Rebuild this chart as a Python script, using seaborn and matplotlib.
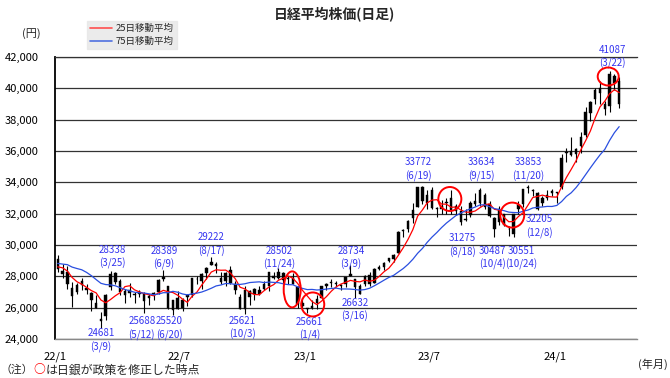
import numpy as np
import pandas as pd
import matplotlib
matplotlib.use("Agg")
import matplotlib.pyplot as plt
from matplotlib.patches import Ellipse
from matplotlib.lines import Line2D
import seaborn as sns

# -------------------------------
# Data (weekly candles, 2022/1 - 2024/4)
# -------------------------------
# closes of the last 15 weeks of 2021, only used to start the moving averages
warmup_close = [30249, 28771, 28049, 29069, 28805, 28893, 29612, 29610,
                29745, 28752, 28030, 28437, 28546, 28782, 28792]

first_week = "2022-01-07"   # week ending (Friday)

week_open = [
    # 2022
    29098, 28366, 28257, 27250, 27000, 27439, 27250, 26920, 26300, 25300,
    25480, 27300, 28200, 27700, 26800, 26950, 26800, 26850, 26900, 26630,
    26930, 27000, 27950, 27400, 25860, 26600, 26000, 26700, 26800, 27800,
    27700, 28200, 28700, 28800, 27900, 27700, 28400, 27500, 26700, 25900,
    26700, 27200, 26900, 27500, 27400, 28000, 27900, 28200, 27800, 27900,
    27300, 26300,
    # 2023
    25900, 26000, 26300, 26600, 27400, 27600, 27500, 27400, 27500, 28000,
    27800, 26900, 27500, 28100, 27600, 28500, 28600, 29000, 29100, 29500,
    30900, 31000, 31700, 32400, 33700, 32700, 33500, 32300, 32500, 32700,
    33000, 32200, 32200, 31600, 31900, 32800, 32700, 33200, 32600, 31700,
    31500, 32000, 31000, 30700, 32300, 32600, 33700, 33500, 33300, 32700,
    33000, 33300,
    # 2024
    33300, 33700, 35900, 36000, 35800, 36300, 37000, 38400, 39300, 40000,
    39000, 38900, 40800, 40500,
]
week_high = [
    29388, 28813, 28639, 27615, 27563, 27880, 27500, 27020, 26840, 25720,
    26900, 28338, 28252, 27850, 27180, 27580, 27000, 27100, 27000, 26900,
    27000, 27800, 28389, 27400, 26500, 27060, 26600, 26900, 27914, 28000,
    28200, 28600, 29222, 28900, 28250, 28250, 28660, 27700, 26900, 27400,
    27100, 27250, 27400, 27700, 28300, 28300, 28502, 28300, 28000, 28200,
    27400, 26600,
    26000, 26500, 26800, 27400, 27600, 27800, 27700, 27500, 27930, 28734,
    27800, 27500, 28100, 28300, 28500, 28700, 28900, 29200, 29400, 30900,
    31000, 31600, 32700, 33700, 33772, 33500, 33700, 32400, 32900, 33000,
    33500, 32600, 32500, 32300, 32800, 33300, 33634, 33300, 32800, 31800,
    32500, 32000, 31200, 32000, 32800, 33600, 33853, 33600, 33400, 33100,
    33500, 33600,
    33400, 35800, 36200, 36900, 36200, 37200, 38800, 39200, 40000, 40472,
    39200, 41087, 40900, 40700,
]
week_low = [
    28293, 27889, 27217, 26044, 26899, 27140, 26871, 25775, 25950, 24681,
    25207, 27120, 27500, 26800, 26300, 26700, 26290, 26650, 25688, 26200,
    26500, 26900, 27700, 25900, 25520, 25900, 25800, 26100, 26700, 27500,
    27200, 27800, 28700, 28200, 27500, 27400, 27500, 26900, 25937, 25621,
    26200, 26500, 26800, 27100, 27050, 27800, 27800, 27600, 27500, 27500,
    26000, 26000,
    25661, 25900, 25900, 26600, 27100, 27300, 27300, 27100, 27300, 28000,
    26632, 26900, 27400, 27400, 27600, 28400, 28400, 28900, 28900, 29500,
    30500, 30800, 31400, 32400, 32600, 32300, 32300, 31800, 32000, 32000,
    32000, 31900, 31275, 31500, 31800, 32500, 32500, 32300, 31800, 30487,
    31300, 31200, 30551, 30500, 32000, 32400, 33300, 33100, 32205, 32500,
    32900, 33100,
    32693, 33600, 35300, 35700, 35300, 35900, 36900, 37900, 39000, 39000,
    38300, 38500, 39900, 38774,
]
week_close = [
    28479, 28124, 27522, 26717, 27440, 27696, 27122, 26476, 25985, 25162,
    26827, 28149, 27665, 26985, 27093, 27105, 26847, 27003, 26427, 26739,
    26781, 27761, 27824, 25963, 26491, 25935, 26517, 26788, 27914, 27801,
    28175, 28546, 28930, 28641, 27650, 28214, 27567, 27153, 25937, 27116,
    27090, 26890, 27105, 27199, 28263, 27899, 28283, 27777, 27901, 27527,
    26235, 26094,
    25973, 26119, 26553, 27382, 27509, 27670, 27513, 27453, 27927, 28143,
    27333, 27385, 28041, 27518, 28493, 28564, 28856, 29157, 29388, 30808,
    30916, 31524, 32265, 33706, 32781, 33189, 32388, 32391, 32304, 32759,
    32193, 32473, 31450, 31624, 32710, 32606, 33533, 32402, 31857, 30994,
    32315, 31259, 30991, 31950, 32568, 33585, 33625, 33431, 32307, 32970,
    33169, 33464,
    33377, 35577, 35963, 35751, 36158, 36897, 38487, 39098, 39910, 39688,
    38708, 40888, 40369, 38992,
]

# marked highs and lows (date, price)
high_dates = ["2022-03-25", "2022-06-09", "2022-08-17", "2022-11-24", "2023-03-09",
              "2023-06-19", "2023-09-15", "2023-11-20", "2024-03-22"]
high_values = [28338, 28389, 29222, 28502, 28734, 33772, 33634, 33853, 41087]
low_dates = ["2022-03-09", "2022-05-12", "2022-06-20", "2022-10-03", "2023-01-04",
             "2023-03-16", "2023-08-18", "2023-10-04", "2023-10-24", "2023-12-08"]
low_values = [24681, 25688, 25520, 25621, 25661, 26632, 31275, 30487, 30551, 32205]

# BOJ policy change circles (centre)
boj_dates = ["2022-12-13", "2023-01-12", "2023-07-31", "2023-10-30", "2024-03-18"]
boj_levels = [27167, 26205, 32936, 31910, 40756]

tick_dates = ["2022-01-01", "2022-07-01", "2023-01-01", "2023-07-01", "2024-01-01"]
tick_labels = ["22/1", "22/7", "23/1", "23/7", "24/1"]

# -------------------------------
# Frames
# -------------------------------
weeks = pd.date_range(first_week, periods=len(week_close), freq="W-FRI")
df = pd.DataFrame({
    "date": weeks - pd.Timedelta(days=2),   # centre candle on the week
    "open": week_open, "high": week_high, "low": week_low, "close": week_close,
})
closes = pd.Series(warmup_close + week_close)
n_warm = len(warmup_close)
df["ma25"] = closes.rolling(5).mean().iloc[n_warm:].values
df["ma75"] = closes.rolling(15).mean().iloc[n_warm:].values

# -------------------------------
# Style
# -------------------------------
sns.set_theme(style="white")
plt.rcParams["font.family"] = ["Noto Sans CJK JP", "DejaVu Sans"]

W, H = 670, 378
fig = plt.figure(figsize=(W / 100, H / 100), dpi=100)
ax = fig.add_axes([55 / W, 1 - 339 / H, 582 / W, 282 / H])

# candles
ax.vlines(df["date"], df["low"], df["high"], color="black", lw=0.8, zorder=3)
body_lo = np.minimum(df["open"], df["close"])
body_h = np.maximum(np.abs(df["close"] - df["open"]), 60)
ax.bar(df["date"], body_h, bottom=body_lo, width=3.6, color="black",
       edgecolor="black", lw=0.3, zorder=3)

# moving averages
sns.lineplot(data=df, x="date", y="ma25", ax=ax, color="#ff0000", lw=0.9,
             zorder=4, legend=False)
sns.lineplot(data=df, x="date", y="ma75", ax=ax, color="#2a4fe0", lw=0.9,
             zorder=4, legend=False)

# axes
ax.set_xlim(pd.Timestamp("2022-01-01"), pd.Timestamp("2024-04-29"))
ax.set_ylim(24000, 42000)
ax.set_yticks(range(24000, 42001, 2000))
ax.set_yticklabels([f"{v:,}" for v in range(24000, 42001, 2000)])
ax.set_xticks(pd.to_datetime(tick_dates))
ax.set_xticklabels(tick_labels)
ax.set_xlabel("")
ax.set_ylabel("")
ax.grid(axis="y", color="#333333", lw=0.9)
ax.set_axisbelow(True)
ax.spines["right"].set_visible(False)
ax.spines["top"].set_color("#333333")
ax.spines["top"].set_linewidth(0.9)
ax.spines["bottom"].set_color("#888888")
ax.spines["bottom"].set_linewidth(1.0)
ax.spines["left"].set_color("black")
ax.spines["left"].set_linewidth(1.3)
ax.tick_params(axis="y", length=0, pad=12, labelsize=8, labelcolor="black")
ax.tick_params(axis="x", direction="in", length=4, width=0.8, color="#555555",
               pad=9, labelsize=8, labelcolor="black")

# marked highs / lows
blue = "#3535f0"
high_offsets = [(0, 14), (0, 12), (0, 12.5), (0, 10.5), (0, 7),
                (-3, 16.5), (0, 18.5), (2, 15), (1, 14.5)]
low_offsets = [(0, -12), (-3, -16), (-2, -13.5), (-1, -14.5), (2, -16),
               (-1, -12.5), (0, -20.5), (-2, -20.5), (13, -21.5), (0, -16)]
for dates, vals, offs in [(high_dates, high_values, high_offsets),
                          (low_dates, low_values, low_offsets)]:
    for d, v, off in zip(dates, vals, offs):
        t = pd.Timestamp(d)
        ax.annotate(f"{v}\n({t.month}/{t.day})", xy=(t, v), xytext=off,
                    textcoords="offset pixels", ha="center", va="center",
                    fontsize=7, color=blue, linespacing=1.35, zorder=6)

# BOJ circles
circle_px = [(17, 36), (23, 24), (23, 24), (24, 25), (21, 18)]
days_per_px = 849 / 582
yen_per_px = 18000 / 282
for d, lvl, (wp, hp) in zip(boj_dates, boj_levels, circle_px):
    ax.add_patch(Ellipse((pd.Timestamp(d), lvl), wp * days_per_px, hp * yen_per_px,
                         fill=False, edgecolor="#ff0000", lw=1.4, zorder=7))

# legend
handles = [Line2D([], [], color="#ff5050", lw=1.2, label="25日移動平均"),
           Line2D([], [], color="#5070e0", lw=1.2, label="75日移動平均")]
leg = fig.legend(handles=handles, loc="upper left", bbox_to_anchor=(87 / W, 1 - 21 / H),
                 fontsize=6.8, frameon=True, fancybox=False, handlelength=2.3,
                 borderpad=0.35, labelspacing=0.35, handletextpad=0.4,
                 borderaxespad=0)
leg.get_frame().set_facecolor("#e6e6e6")
leg.get_frame().set_edgecolor("#e6e6e6")

# texts
fig.text(0.5, 1 - 15 / H, "日経平均株価(日足)", ha="center", va="center",
         fontsize=10, fontweight="bold")
fig.text(31 / W, 1 - 34 / H, "(円)", ha="center", va="center", fontsize=8)
fig.text(668 / W, 1 - 364 / H, "(年月)", ha="right", va="center", fontsize=8)
fig.text(1 / W, 1 - 370 / H, "（注）", ha="left", va="center", fontsize=7.8)
fig.text(33 / W, 1 - 370 / H, "○", ha="left", va="center", fontsize=8.5,
         color="#ff0000", fontweight="bold")
fig.text(45.5 / W, 1 - 370 / H, "は日銀が政策を修正した時点", ha="left",
         va="center", fontsize=8.6)

fig.savefig("out.png", dpi=100)
